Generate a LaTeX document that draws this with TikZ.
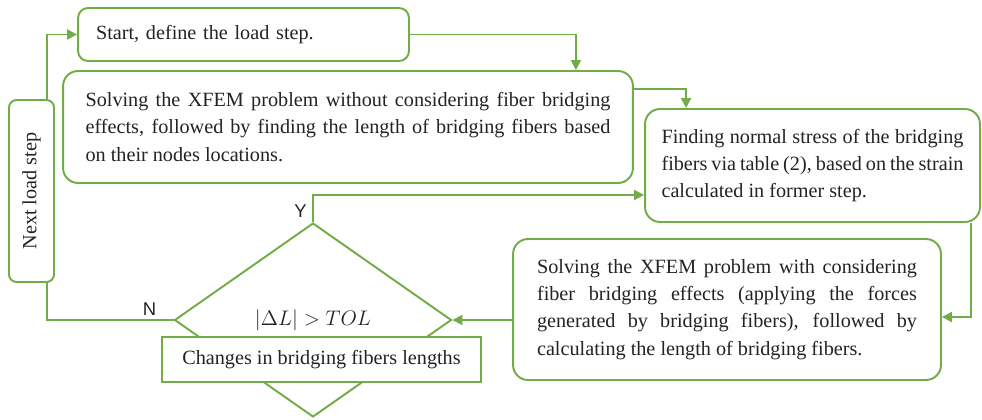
\documentclass[tikz,border=0pt]{standalone}
\usepackage{fontspec}
\setmainfont{Liberation Serif}
\newfontfamily\ynfont{Liberation Sans}
\usepackage{graphicx}
\usepackage{tikz}
\usetikzlibrary{positioning,arrows.meta,shapes.geometric}
\definecolor{leafgreen}{RGB}{112,173,71}
\definecolor{inkgray}{RGB}{35,35,35}
\tikzset{
  rbox/.style  ={draw=leafgreen, line width=1.1pt, fill=white, rounded corners=3mm,
                 align=justify, text=inkgray, inner sep=1pt,
                 font=\fontsize{11.5}{15.5}\selectfont},
  sqbox/.style ={draw=leafgreen, line width=1.1pt, fill=white, align=center, text=inkgray,
                 inner sep=1pt, font=\fontsize{11.5}{15.5}\selectfont},
  dec/.style   ={diamond, draw=leafgreen, line width=1.1pt, inner sep=0pt, text=inkgray,
                 minimum width=5.54cm, minimum height=3.88cm, font=\fontsize{11.5}{14}\selectfont},
  ar/.style    ={-{Triangle[length=2mm,width=2mm]}, draw=leafgreen, line width=1.1pt},
  ln/.style    ={draw=leafgreen, line width=1.1pt},
  lbl/.style   ={inner sep=0pt, text=inkgray, font=\ynfont\fontsize{10.5}{12}\selectfont},
}
\begin{document}
\begin{tikzpicture}[x=0.02cm,y=-0.02cm]
\useasboundingbox (0,0) rectangle (982,419);
\node[rbox,rounded corners=2mm,align=left,text width=5.9cm,minimum width=6.62cm,minimum height=1.06cm]
   (start) at (243.5,34.5) {Start, define the load step.};
\node[rbox,text width=10.5cm,minimum width=11.4cm,minimum height=2.24cm] (solve1) at (348,127)
   {Solving the XFEM problem without considering fiber bridging\linebreak effects, followed by finding the length of bridging fibers based\linebreak on their nodes locations.};
\node[rbox,text width=6.04cm,minimum width=6.7cm,minimum height=2.26cm] (stress) at (812.5,165.5)
   {Finding normal stress of the bridging\linebreak fibers via table (2), based on the strain\linebreak calculated in former step.};
\node[rbox,text width=7.6cm,minimum width=8.56cm,minimum height=2.82cm] (solve2) at (727,309.5)
   {Solving the XFEM problem with considering\linebreak fiber bridging effects (applying the forces\linebreak generated by bridging fibers), followed by\linebreak calculating the length of bridging fibers.};
\node[rbox,rounded corners=1.5mm,align=center,inner sep=0pt,minimum width=0.9cm,minimum height=3.64cm]
   (next) at (31.5,191) {\rotatebox{90}{Next load step}};

\node[dec] (check) at (313,320) {$|\Delta L| > TOL$};
\node[sqbox,minimum width=6.38cm,minimum height=0.9cm] (change) at (321.5,359.5) {Changes in bridging fibers lengths};

\node[lbl,above left=0.8mm and 1.2mm of check.north] (ylab) {Y};
\node[lbl,above left=0.8mm and 3.4mm of check.west] (nlab) {N};

\draw[ar] ([xshift=-1.6mm]next.north east) |- (start.west);
\draw[ar] (start.east) -| ([xshift=-11.6mm]solve1.north east);
\draw[ar] ([yshift=-3.8mm]solve1.north east) -| ([xshift=8.4mm]stress.north west);
\draw[ar] ([xshift=-2mm]stress.south east) |- ([yshift=-1.5mm]solve2.east);
\draw[ar] (solve2.west |- check.east) -- (check.east);
\draw[ar] (check.north) |- ([yshift=-5.9mm]stress.west);
\draw[ln] (check.west) -| ([xshift=-1.6mm]next.south east);
\end{tikzpicture}
\end{document}
